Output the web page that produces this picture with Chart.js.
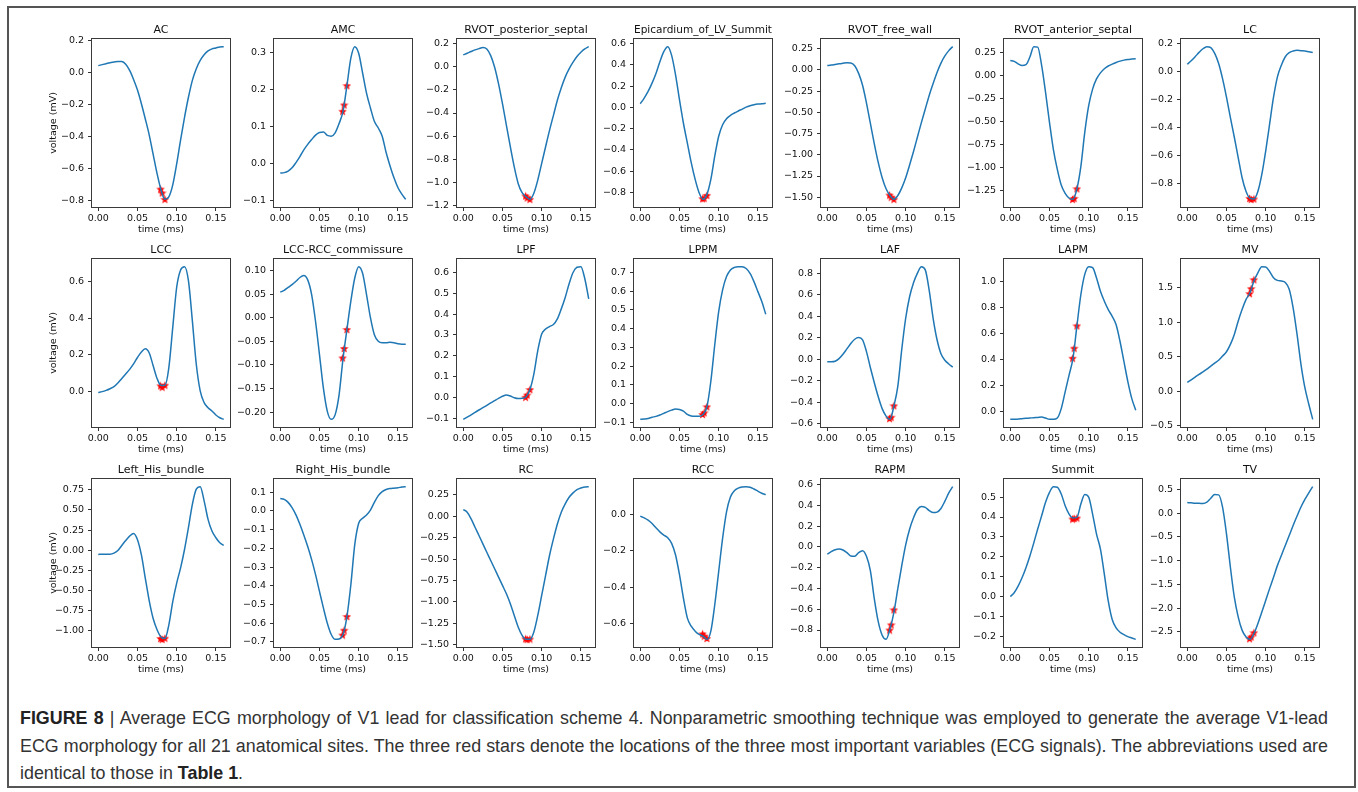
<!DOCTYPE html>
<html>
<head>
<meta charset="utf-8">
<script src="https://cdn.jsdelivr.net/npm/chart.js@4.4.0/dist/chart.umd.min.js"></script>
<style>
  body { margin: 0; background: #fff; width: 1358px; height: 792px; overflow: hidden; position: relative; }
  #frame { position: absolute; left: 7px; top: 6px; width: 1349px; height: 782px; box-sizing: border-box; border: 2px solid #555; }
  canvas { position: absolute; }
  .cap { position: absolute; left: 20px; font-family: 'Liberation Sans', Arial, sans-serif; font-size: 17px; line-height: 20px; color: #333; white-space: nowrap; }
  .cap b { color: #222; }
</style>
</head>
<body>
<div id="frame"></div>
<div id="plots"></div>
<div class="cap" id="cap1" style="top:708px"><b>FIGURE 8</b> | Average ECG morphology of V1 lead for classification scheme 4. Nonparametric smoothing technique was employed to generate the average V1-lead</div>
<div class="cap" id="cap2" style="top:736px">ECG morphology for all 21 anatomical sites. The three red stars denote the locations of the three most important variables (ECG signals). The abbreviations used are</div>
<div class="cap" id="cap3" style="top:763px">identical to those in <b>Table 1</b>.</div>
<script>
// time axis (ms) shared by every panel
const time = [0.000,0.005,0.010,0.015,0.020,0.025,0.030,0.035,0.040,0.045,0.050,0.055,0.060,0.065,0.070,0.075,0.080,
              0.085,0.090,0.095,0.100,0.105,0.110,0.115,0.120,0.125,0.130,0.135,0.140,0.145,0.150,0.155,0.160];
// the three most important variables (red stars)
const starTime = [0.0795, 0.0815, 0.085];
const xTickLabels = ['0.00', '0.05', '0.10', '0.15'];

// row 1
const AC = [0.042,0.048,0.054,0.060,0.064,0.068,0.067,0.050,0.012,-0.044,-0.110,-0.195,-0.290,-0.390,-0.510,-0.630,-0.730,
            -0.790,-0.775,-0.700,-0.570,-0.420,-0.280,-0.155,-0.050,0.023,0.075,0.110,0.133,0.146,0.152,0.158,0.160];
const AC_stars = [-0.726, -0.750, -0.790];
const AC_yticks = ['0.2','0.0','-0.2','-0.4','-0.6','-0.8'];

const AMC = [-0.025,-0.024,-0.020,-0.011,0.003,0.019,0.037,0.052,0.065,0.077,0.084,0.085,0.076,0.074,0.083,0.108,0.141,
             0.210,0.284,0.315,0.297,0.244,0.190,0.150,0.114,0.096,0.074,0.030,-0.006,-0.038,-0.064,-0.082,-0.096];
const AMC_stars = [0.141, 0.158, 0.210];
const AMC_yticks = ['0.3','0.2','0.1','0.0','-0.1'];

const RVOT_ps = [0.100,0.114,0.129,0.143,0.154,0.163,0.151,0.094,-0.006,-0.149,-0.320,-0.506,-0.690,-0.863,-1.006,-1.086,-1.120,
                 -1.143,-1.090,-0.977,-0.834,-0.690,-0.549,-0.420,-0.290,-0.183,-0.091,-0.020,0.037,0.086,0.123,0.151,0.171];
const RVOT_ps_stars = [-1.114, -1.130, -1.143];
const RVOT_ps_yticks = ['0.2','0.0','-0.2','-0.4','-0.6','-0.8','-1.0','-1.2'];

const EPI = [0.034,0.088,0.150,0.228,0.320,0.430,0.525,0.572,0.490,0.306,0.072,-0.147,-0.334,-0.520,-0.678,-0.803,-0.866,
             -0.819,-0.678,-0.459,-0.272,-0.163,-0.106,-0.075,-0.053,-0.034,-0.016,0.003,0.016,0.025,0.031,0.034,0.038];
const EPI_stars = [-0.860, -0.856, -0.828];
const EPI_yticks = ['0.6','0.4','0.2','0.0','-0.2','-0.4','-0.6','-0.8'];

const RVOT_fw = [0.052,0.058,0.065,0.072,0.079,0.085,0.083,0.050,-0.040,-0.180,-0.390,-0.630,-0.870,-1.090,-1.270,-1.400,-1.480,
                 -1.525,-1.480,-1.390,-1.270,-1.120,-0.960,-0.790,-0.620,-0.460,-0.300,-0.160,-0.030,0.080,0.165,0.228,0.275];
const RVOT_fw_stars = [-1.475, -1.500, -1.525];
const RVOT_fw_yticks = ['0.25','0.00','-0.25','-0.50','-0.75','-1.00','-1.25','-1.50'];

const RVOT_as = [0.160,0.150,0.124,0.106,0.115,0.197,0.310,0.305,0.106,-0.186,-0.510,-0.805,-1.020,-1.190,-1.280,-1.330,-1.345,
                 -1.230,-0.990,-0.620,-0.330,-0.150,-0.040,0.026,0.070,0.100,0.120,0.138,0.153,0.164,0.171,0.175,0.179];
const RVOT_as_stars = [-1.345, -1.334, -1.230];
const RVOT_as_yticks = ['0.25','0.00','-0.25','-0.50','-0.75','-1.00','-1.25'];

const LC = [0.050,0.074,0.103,0.134,0.160,0.175,0.168,0.127,0.055,-0.053,-0.185,-0.330,-0.470,-0.616,-0.760,-0.856,-0.904,
            -0.909,-0.856,-0.736,-0.568,-0.376,-0.185,-0.040,0.043,0.103,0.132,0.144,0.149,0.146,0.144,0.139,0.134];
const LC_stars = [-0.905, -0.912, -0.909];
const LC_yticks = ['0.2','0.0','-0.2','-0.4','-0.6','-0.8'];

// row 2
const LCC = [-0.007,-0.002,0.005,0.014,0.025,0.045,0.070,0.095,0.120,0.150,0.185,0.215,0.233,0.210,0.140,0.070,0.032,
             0.033,0.130,0.350,0.570,0.665,0.683,0.606,0.386,0.148,0.002,-0.062,-0.090,-0.108,-0.130,-0.145,-0.154];
const LCC_stars = [0.030, 0.022, 0.033];
const LCC_yticks = ['0.6','0.4','0.2','0.0'];

const LCC_RCC = [0.054,0.058,0.064,0.070,0.077,0.085,0.089,0.080,0.049,-0.008,-0.078,-0.149,-0.198,-0.215,-0.205,-0.163,-0.087,
                 -0.025,0.035,0.084,0.108,0.094,0.049,0.000,-0.036,-0.050,-0.053,-0.053,-0.052,-0.053,-0.055,-0.056,-0.056];
const LCC_RCC_stars = [-0.085, -0.065, -0.025];
const LCC_RCC_yticks = ['0.10','0.05','0.00','-0.05','-0.10','-0.15','-0.20'];

const LPF = [-0.106,-0.095,-0.084,-0.072,-0.061,-0.050,-0.039,-0.027,-0.016,-0.005,0.005,0.011,0.006,-0.002,-0.006,-0.005,0.002,
             0.037,0.111,0.224,0.304,0.328,0.340,0.350,0.377,0.425,0.480,0.546,0.600,0.625,0.628,0.570,0.473];
const LPF_stars = [0.000, 0.011, 0.037];
const LPF_yticks = ['0.6','0.5','0.4','0.3','0.2','0.1','0.0','-0.1'];

const LPPM = [-0.083,-0.081,-0.078,-0.072,-0.067,-0.060,-0.051,-0.042,-0.034,-0.028,-0.030,-0.039,-0.057,-0.065,-0.067,-0.067,-0.057,
              -0.016,0.120,0.314,0.490,0.606,0.677,0.712,0.726,0.730,0.730,0.720,0.694,0.650,0.597,0.544,0.477];
const LPPM_stars = [-0.057, -0.048, -0.016];
const LPPM_yticks = ['0.7','0.6','0.5','0.4','0.3','0.2','0.1','0.0','-0.1'];

const LAF = [-0.025,-0.025,-0.020,0.005,0.045,0.095,0.145,0.185,0.200,0.180,0.070,-0.080,-0.220,-0.350,-0.460,-0.530,-0.560,
             -0.434,-0.250,0.090,0.380,0.580,0.710,0.800,0.860,0.830,0.640,0.380,0.180,0.050,-0.010,-0.045,-0.075];
const LAF_stars = [-0.553, -0.540, -0.434];
const LAF_yticks = ['0.8','0.6','0.4','0.2','0.0','-0.2','-0.4','-0.6'];

const LAPM = [-0.062,-0.062,-0.060,-0.057,-0.054,-0.052,-0.049,-0.047,-0.044,-0.052,-0.062,-0.062,-0.052,0.021,0.150,0.280,0.410,
              0.660,0.900,1.057,1.117,1.109,1.030,0.927,0.850,0.785,0.733,0.668,0.539,0.383,0.228,0.098,0.008];
const LAPM_stars = [0.410, 0.487, 0.660];
const LAPM_yticks = ['1.0','0.8','0.6','0.4','0.2','0.0'];

const MV = [0.126,0.165,0.204,0.243,0.280,0.320,0.364,0.408,0.450,0.510,0.573,0.680,0.825,1.020,1.190,1.335,1.430,
            1.600,1.720,1.810,1.806,1.740,1.650,1.610,1.600,1.580,1.480,1.210,0.825,0.390,0.050,-0.190,-0.410];
const MV_stars = [1.417, 1.490, 1.620];
const MV_yticks = ['1.5','1.0','0.5','0.0','-0.5'];

// row 3
const LHB = [-0.054,-0.050,-0.050,-0.050,-0.037,-0.004,0.058,0.120,0.175,0.208,0.130,-0.060,-0.350,-0.630,-0.850,-0.990,-1.080,
             -1.100,-0.930,-0.640,-0.410,-0.220,0.008,0.280,0.570,0.758,0.790,0.613,0.383,0.238,0.154,0.092,0.058];
const LHB_stars = [-1.100, -1.110, -1.096];
const LHB_yticks = ['0.75','0.50','0.25','0.00','-0.25','-0.50','-0.75','-1.00'];

const RHB = [0.067,0.062,0.046,0.018,-0.021,-0.071,-0.128,-0.190,-0.260,-0.340,-0.430,-0.518,-0.600,-0.660,-0.686,-0.684,-0.660,
             -0.564,-0.394,-0.180,-0.066,-0.039,-0.021,0.005,0.046,0.082,0.103,0.115,0.120,0.122,0.124,0.128,0.130];
const RHB_stars = [-0.663, -0.637, -0.564];
const RHB_yticks = ['0.1','0.0','-0.1','-0.2','-0.3','-0.4','-0.5','-0.6','-0.7'];

const RC = [0.078,0.047,-0.031,-0.128,-0.225,-0.322,-0.420,-0.516,-0.613,-0.710,-0.807,-0.905,-1.020,-1.157,-1.293,-1.390,-1.436,
            -1.436,-1.350,-1.157,-0.924,-0.690,-0.458,-0.264,-0.090,0.047,0.144,0.221,0.272,0.310,0.330,0.340,0.345];
const RC_stars = [-1.430, -1.436, -1.432];
const RC_yticks = ['0.25','0.00','-0.25','-0.50','-0.75','-1.00','-1.25','-1.50'];

const RCC = [-0.009,-0.018,-0.031,-0.049,-0.073,-0.095,-0.113,-0.127,-0.158,-0.222,-0.330,-0.458,-0.567,-0.613,-0.640,-0.658,-0.667,
             -0.685,-0.640,-0.495,-0.313,-0.131,0.015,0.096,0.130,0.145,0.151,0.153,0.150,0.140,0.128,0.117,0.109];
const RCC_stars = [-0.655, -0.667, -0.680];
const RCC_yticks = ['0.0','-0.2','-0.4','-0.6'];

const RAPM = [-0.070,-0.045,-0.027,-0.020,-0.030,-0.055,-0.088,-0.090,-0.055,-0.036,-0.090,-0.230,-0.500,-0.720,-0.850,-0.890,-0.790,
              -0.630,-0.400,-0.180,0.020,0.170,0.280,0.360,0.390,0.380,0.350,0.330,0.335,0.370,0.440,0.520,0.580];
const RAPM_stars = [-0.800, -0.750, -0.606];
const RAPM_yticks = ['0.6','0.4','0.2','0.0','-0.2','-0.4','-0.6','-0.8'];

const SUMMIT = [0.000,0.019,0.052,0.094,0.145,0.204,0.270,0.340,0.406,0.474,0.524,0.553,0.550,0.516,0.457,0.415,0.395,
                0.398,0.465,0.513,0.500,0.415,0.314,0.238,0.111,-0.024,-0.116,-0.158,-0.180,-0.192,-0.202,-0.209,-0.216];
const SUMMIT_stars = [0.390, 0.393, 0.395];
const SUMMIT_yticks = ['0.5','0.4','0.3','0.2','0.1','0.0','-0.1','-0.2'];

const TV = [0.225,0.218,0.210,0.210,0.204,0.232,0.316,0.393,0.386,0.126,-0.435,-1.140,-1.770,-2.190,-2.470,-2.610,-2.660,
            -2.540,-2.330,-2.090,-1.840,-1.590,-1.350,-1.100,-0.890,-0.680,-0.470,-0.260,-0.060,0.130,0.290,0.430,0.560];
const TV_stars = [-2.647, -2.610, -2.520];
const TV_yticks = ['0.5','0.0','-0.5','-1.0','-1.5','-2.0','-2.5'];

const panels = [
  ['AC', AC, AC_stars, AC_yticks],
  ['AMC', AMC, AMC_stars, AMC_yticks],
  ['RVOT_posterior_septal', RVOT_ps, RVOT_ps_stars, RVOT_ps_yticks],
  ['Epicardium_of_LV_Summit', EPI, EPI_stars, EPI_yticks],
  ['RVOT_free_wall', RVOT_fw, RVOT_fw_stars, RVOT_fw_yticks],
  ['RVOT_anterior_septal', RVOT_as, RVOT_as_stars, RVOT_as_yticks],
  ['LC', LC, LC_stars, LC_yticks],
  ['LCC', LCC, LCC_stars, LCC_yticks],
  ['LCC-RCC_commissure', LCC_RCC, LCC_RCC_stars, LCC_RCC_yticks],
  ['LPF', LPF, LPF_stars, LPF_yticks],
  ['LPPM', LPPM, LPPM_stars, LPPM_yticks],
  ['LAF', LAF, LAF_stars, LAF_yticks],
  ['LAPM', LAPM, LAPM_stars, LAPM_yticks],
  ['MV', MV, MV_stars, MV_yticks],
  ['Left_His_bundle', LHB, LHB_stars, LHB_yticks],
  ['Right_His_bundle', RHB, RHB_stars, RHB_yticks],
  ['RC', RC, RC_stars, RC_yticks],
  ['RCC', RCC, RCC_stars, RCC_yticks],
  ['RAPM', RAPM, RAPM_stars, RAPM_yticks],
  ['Summit', SUMMIT, SUMMIT_stars, SUMMIT_yticks],
  ['TV', TV, TV_stars, TV_yticks]
];

// grid placement of the plot areas (px)
const colLeft = [92, 274, 457, 634, 821, 1004, 1181];
const rowTop = [39, 259, 479];
const PLOT_W = 138, PLOT_H = 168;
const PAD_L = 62, PAD_T = 26, PAD_B = 32, PAD_R = 14;
const FONT = "'DejaVu Sans', sans-serif";
const TXT = '#111';

function tickText(list, v) {
  const s = list.find(l => Math.abs(parseFloat(l) - v) < 1e-9);
  return s === undefined ? '' : s.replace('-', '\u2212');
}

function makeStar() {
  const c = document.createElement('canvas');
  c.width = 9; c.height = 9;
  const g = c.getContext('2d');
  g.beginPath();
  for (let i = 0; i < 10; i++) {
    const r = i % 2 ? 1.9 : 4.5;
    const a = -Math.PI / 2 + i * Math.PI / 5;
    g.lineTo(4.5 + r * Math.cos(a), 4.9 + r * Math.sin(a));
  }
  g.closePath();
  g.fillStyle = '#ff0000';
  g.fill();
  return c;
}
const starImg = makeStar();

// spines on all four sides
const boxPlugin = {
  id: 'box',
  afterDatasetsDraw(chart) {
    const { ctx, chartArea: a } = chart;
    ctx.save();
    ctx.strokeStyle = '#3a3a3a';
    ctx.lineWidth = 1;
    ctx.strokeRect(Math.round(a.left) - 0.5, Math.round(a.top) - 0.5, Math.round(a.width) + 1, Math.round(a.height) + 1);
    ctx.restore();
  }
};

const holder = document.getElementById('plots');
panels.forEach(([title, values, stars, yTicks], i) => {
  const r = Math.floor(i / 7), c = i % 7;
  const cv = document.createElement('canvas');
  cv.width = PAD_L + PLOT_W + PAD_R;
  cv.height = PAD_T + PLOT_H + PAD_B;
  cv.style.left = (colLeft[c] - PAD_L) + 'px';
  cv.style.top = (rowTop[r] - PAD_T) + 'px';
  holder.appendChild(cv);

  const all = values.concat(stars);
  const lo = Math.min(...all), hi = Math.max(...all);
  const m = (hi - lo) * 0.05;
  const yMin = lo - m, yMax = hi + m;

  new Chart(cv, {
    type: 'line',
    data: {
      datasets: [
        {
          data: time.map((t, k) => ({ x: t, y: values[k] })),
          borderColor: '#1f77b4',
          borderWidth: 1.5,
          pointRadius: 0,
          cubicInterpolationMode: 'monotone',
          fill: false
        },
        {
          data: starTime.map((t, k) => ({ x: t, y: stars[k] })),
          showLine: false,
          pointStyle: starImg,
          pointRadius: 4,
          borderColor: '#ff0000',
          backgroundColor: '#ff0000'
        }
      ]
    },
    options: {
      responsive: false,
      animation: false,
      devicePixelRatio: 1,
      layout: { padding: { left: 0, right: PAD_R, top: 0, bottom: 0 } },
      plugins: {
        legend: { display: false },
        tooltip: { enabled: false },
        title: {
          display: true, text: title, fullSize: false, color: TXT,
          font: { family: FONT, size: 11, weight: 'normal' },
          padding: { top: 10.4, bottom: 2.4 }
        }
      },
      scales: {
        x: {
          type: 'linear', min: -0.008, max: 0.168, bounds: 'data',
          afterBuildTicks: s => { s.ticks = xTickLabels.map(l => ({ value: parseFloat(l) })); },
          afterFit: s => { s.height = PAD_B; },
          ticks: { autoSkip: false, maxRotation: 0, padding: 2, color: TXT,
                   font: { family: FONT, size: 9.5 }, callback: v => tickText(xTickLabels, v) },
          grid: { drawOnChartArea: false, tickLength: 4, tickColor: '#333' },
          border: { display: false },
          title: { display: true, text: 'time (ms)', color: TXT,
                   font: { family: FONT, size: 9.5 }, padding: { top: 0, bottom: 3.3 } }
        },
        y: {
          type: 'linear', min: yMin, max: yMax, bounds: 'data',
          afterBuildTicks: s => {
            s.ticks = yTicks.map(l => ({ value: parseFloat(l) }))
                            .filter(t => t.value >= yMin && t.value <= yMax)
                            .sort((a, b) => a.value - b.value);
          },
          afterFit: s => { s.width = PAD_L; },
          ticks: { autoSkip: false, padding: 4, color: TXT,
                   font: { family: FONT, size: 9.5 }, callback: v => tickText(yTicks, v) },
          grid: { drawOnChartArea: false, tickLength: 4, tickColor: '#333' },
          border: { display: false },
          title: { display: c === 0, text: 'voltage (mV)', color: TXT,
                   font: { family: FONT, size: 9.5 }, padding: { top: 18, bottom: 0 } }
        }
      }
    },
    plugins: [boxPlugin]
  });
});

// caption: size the font so the two full lines fit 1308px, then justify them like the figure
const CAP_W = 1308;
const cap1 = document.getElementById('cap1'), cap2 = document.getElementById('cap2');
const widest = Math.max(cap1.getBoundingClientRect().width, cap2.getBoundingClientRect().width);
const capSize = (17 * (CAP_W - 2) / widest).toFixed(2) + 'px';
document.querySelectorAll('.cap').forEach(el => { el.style.fontSize = capSize; });
[cap1, cap2].forEach(el => {
  el.style.width = CAP_W + 'px';
  el.style.whiteSpace = 'normal';
  el.style.textAlign = 'justify';
  el.style.textAlignLast = 'justify';
});
</script>
</body>
</html>
